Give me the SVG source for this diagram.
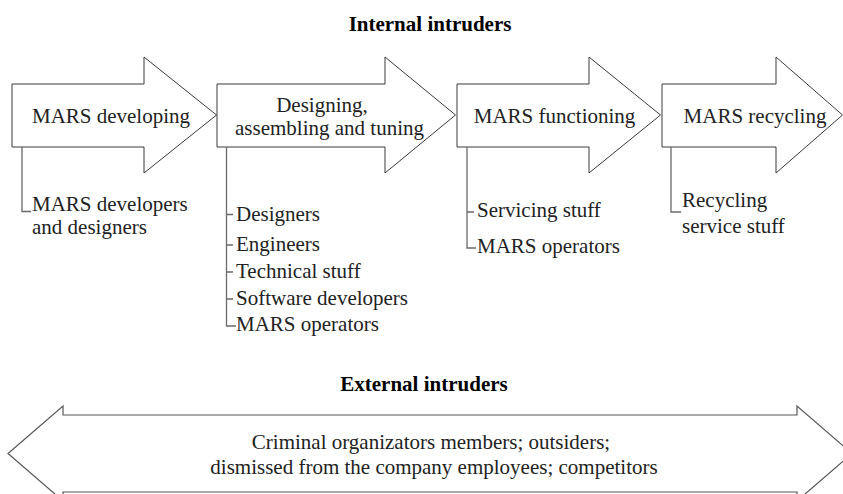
<svg xmlns="http://www.w3.org/2000/svg" width="843" height="494" viewBox="0 0 843 494">
<style>
.arrow{fill:#fff;stroke:#3a3a3a;stroke-width:1}
.conn{fill:none;stroke:#6a6a6a;stroke-width:1.3}
.t{font-family:'Liberation Serif','Tinos','DejaVu Serif',serif;font-size:21px;fill:#222}
.c{text-anchor:middle}
.b{font-weight:bold;fill:#000}
</style>
<rect width="843" height="494" fill="#fff"/>
<text class="t b c" x="430" y="31" font-family="Liberation Serif">Internal intruders</text>
<g id="stage1">
<path class="arrow" d="M12,84 H144 V57 L216.5,115 L144,173 V147 H12 Z"/>
<text class="t c" x="111" y="123">MARS developing</text>
</g>
<g id="stage2">
<path class="arrow" d="M217,84 H385 V57 L455.5,115 L385,173 V147 H217 Z"/>
<text class="t c" x="322" y="112">Designing,</text>
<text class="t c" x="329.5" y="135">assembling and tuning</text>
</g>
<g id="stage3">
<path class="arrow" d="M457,84 H589 V57 L660.5,115 L589,173 V147 H457 Z"/>
<text class="t c" x="554.5" y="123">MARS functioning</text>
</g>
<g id="stage4">
<path class="arrow" d="M662,84 H776 V57 L842.5,115 L776,173 V147 H662 Z"/>
<text class="t c" x="755" y="123">MARS recycling</text>
</g>
<g id="connectors">
<path class="conn" d="M22,147 V211.5 H31"/>
<path class="conn" d="M226.5,147 V326 H236 M226.5,214.5 H233 M226.5,245 H233 M226.5,272 H233 M226.5,299 H233"/>
<path class="conn" d="M467,147 V248 H476 M467,212 H474"/>
<path class="conn" d="M671,147 V212 H681"/>
</g>
<g id="stage1-people">
<text class="t" x="32" y="211">MARS developers</text>
<text class="t" x="32" y="234">and designers</text>
</g>
<g id="stage2-people">
<text class="t" x="236" y="221">Designers</text>
<text class="t" x="236" y="251">Engineers</text>
<text class="t" x="236" y="278">Technical stuff</text>
<text class="t" x="236" y="305">Software developers</text>
<text class="t" x="236" y="331">MARS operators</text>
</g>
<g id="stage3-people">
<text class="t" x="477" y="217">Servicing stuff</text>
<text class="t" x="477" y="253">MARS operators</text>
</g>
<g id="stage4-people">
<text class="t" x="682" y="207">Recycling</text>
<text class="t" x="682" y="233">service stuff</text>
</g>
<text class="t b c" x="424" y="391">External intruders</text>
<g id="external">
<path d="M63,415 H797 V406 L852,453.5 L797,501 V492 H63 V501 L8,453.5 L63,406 Z" fill="#fff" stroke="#555" stroke-width="1.2"/>
<text class="t c" x="431" y="449">Criminal organizators members; outsiders;</text>
<text class="t c" x="434" y="474">dismissed from the company employees; competitors</text>
</g>
</svg>
